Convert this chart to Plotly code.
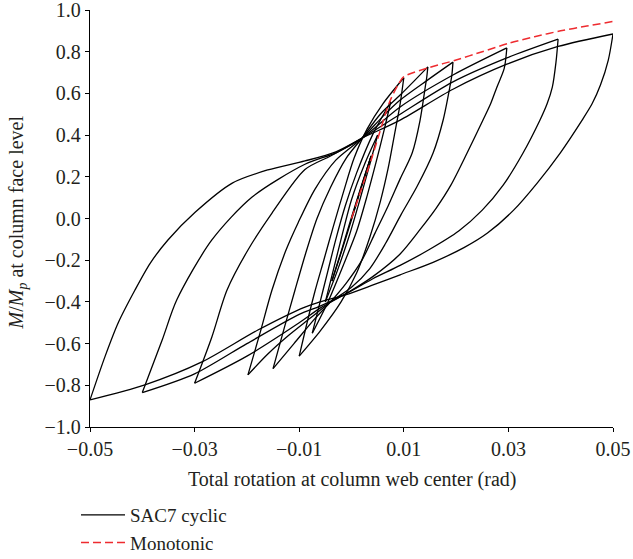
import plotly.graph_objects as go

# Moment-rotation hysteresis of connection SAC7 (cyclic) vs. monotonic push.
# Each branch is a list of (rotation [rad], M/Mp) points.

first_load = [(0.0, 0.0), (0.002, 0.16), (0.00375, 0.30)]

rise_00375 = [(-0.00375, -0.30), (-0.002, -0.16), (-0.0002, -0.01), (0.0018, 0.15), (0.00375, 0.30)]
fall_00375 = [(0.00375, 0.30), (0.002, 0.16), (0.0002, 0.01), (-0.0018, -0.15), (-0.00375, -0.30)]

rise_0005 = [(-0.005, -0.40), (-0.0035, -0.25), (-0.0018, -0.08), (0.0, 0.09), (0.0025, 0.26), (0.005, 0.40)]
fall_0005 = [(0.005, 0.40), (0.0035, 0.26), (0.0016, 0.09), (-0.0004, -0.08), (-0.0027, -0.25), (-0.005, -0.40)]

rise_00075 = [(-0.0075, -0.55), (-0.006, -0.40), (-0.0045, -0.25), (-0.003, -0.10), (-0.0012, 0.06),
              (0.001, 0.22), (0.004, 0.40), (0.0075, 0.56)]
fall_00075 = [(0.0075, 0.56), (0.0062, 0.42), (0.0047, 0.27), (0.003, 0.11), (0.001, -0.06),
              (-0.0015, -0.22), (-0.0045, -0.40), (-0.0075, -0.55)]

rise_001 = [(-0.01, -0.66), (-0.0085, -0.50), (-0.007, -0.35), (-0.0053, -0.20), (-0.0035, -0.04),
            (-0.0015, 0.13), (0.0005, 0.29), (0.003, 0.43), (0.006, 0.55), (0.01, 0.675)]
fall_001 = [(0.01, 0.675), (0.0093, 0.55), (0.0082, 0.40), (0.007, 0.24), (0.0055, 0.08),
            (0.0035, -0.09), (0.001, -0.26), (-0.002, -0.40), (-0.006, -0.54), (-0.01, -0.66)]

rise_0015 = [(-0.015, -0.72), (-0.0128, -0.52), (-0.0108, -0.343), (-0.0088, -0.17), (-0.0066, 0.0),
             (-0.004, 0.15), (-0.001, 0.29), (0.002, 0.385), (0.0055, 0.50), (0.0093, 0.592),
             (0.012, 0.66), (0.0146, 0.727)]
fall_0015 = [(0.0146, 0.727), (0.0144, 0.68), (0.0141, 0.63), (0.0131, 0.47), (0.0116, 0.314),
             (0.0093, 0.19), (0.007, 0.06), (0.0045, -0.07), (0.002, -0.20), (-0.001, -0.31),
             (-0.004, -0.40), (-0.007, -0.48), (-0.011, -0.60), (-0.015, -0.72)]

rise_002 = [(-0.0198, -0.75), (-0.0175, -0.55), (-0.0152, -0.343), (-0.0125, -0.15), (-0.0102, -0.02),
            (-0.007, 0.14), (-0.003, 0.28), (0.002, 0.385), (0.006, 0.49), (0.0093, 0.568),
            (0.0146, 0.665), (0.0194, 0.75)]
fall_002 = [(0.0194, 0.75), (0.0192, 0.69), (0.0188, 0.63), (0.0175, 0.47), (0.0156, 0.314),
            (0.0125, 0.152), (0.0095, 0.02), (0.0065, -0.12), (0.0035, -0.24), (0.0, -0.33),
            (-0.004, -0.40), (-0.008, -0.48), (-0.012, -0.56), (-0.016, -0.65), (-0.0198, -0.75)]

rise_003 = [(-0.03, -0.79), (-0.0267, -0.568), (-0.0238, -0.343), (-0.0198, -0.151), (-0.0152, 0.026),
            (-0.0089, 0.235), (-0.004, 0.30), (0.002, 0.385), (0.0093, 0.535), (0.0194, 0.688),
            (0.0297, 0.818)]
fall_003 = [(0.0297, 0.818), (0.0292, 0.72), (0.0278, 0.63), (0.0266, 0.55), (0.0251, 0.47),
            (0.0221, 0.314), (0.019, 0.16), (0.0162, 0.05), (0.0132, -0.05), (0.0093, -0.17),
            (0.004, -0.28), (-0.001, -0.36), (-0.006, -0.43), (-0.01, -0.50), (-0.02, -0.66),
            (-0.03, -0.79)]

rise_004 = [(-0.04, -0.835), (-0.0362, -0.583), (-0.0334, -0.39), (-0.0267, -0.103), (-0.019, 0.103),
            (-0.0089, 0.26), (-0.003, 0.315), (0.002, 0.385), (0.0093, 0.50), (0.0194, 0.655),
            (0.0297, 0.77), (0.0395, 0.86)]
fall_004 = [(0.0395, 0.86), (0.0391, 0.75), (0.0384, 0.63), (0.0374, 0.55), (0.036, 0.47),
            (0.0328, 0.314), (0.029, 0.16), (0.025, 0.04), (0.0205, -0.06), (0.0148, -0.15),
            (0.0093, -0.225), (0.004, -0.29), (-0.001, -0.36), (-0.006, -0.42), (-0.01, -0.46),
            (-0.02, -0.60), (-0.03, -0.745), (-0.04, -0.835)]

rise_005 = [(-0.05, -0.87), (-0.0471, -0.66), (-0.0446, -0.50), (-0.0414, -0.343), (-0.0385, -0.215),
            (-0.0351, -0.103), (-0.0299, 0.03), (-0.0228, 0.17), (-0.016, 0.233), (-0.0089, 0.276),
            (-0.003, 0.32), (0.002, 0.385), (0.0093, 0.472), (0.0194, 0.62), (0.0297, 0.74),
            (0.0395, 0.825), (0.05, 0.885)]
fall_005 = [(0.05, 0.885), (0.0491, 0.76), (0.0476, 0.64), (0.046, 0.55), (0.0441, 0.472),
            (0.0399, 0.314), (0.0355, 0.17), (0.031, 0.04), (0.026, -0.07), (0.0215, -0.14),
            (0.0156, -0.21), (0.0093, -0.27), (0.004, -0.32), (-0.001, -0.365), (-0.006, -0.40),
            (-0.0089, -0.425), (-0.0179, -0.535), (-0.0286, -0.688), (-0.0395, -0.798), (-0.05, -0.87)]

monotonic = [(0.0, 0.0), (0.004, 0.30), (0.0073, 0.56), (0.009, 0.645), (0.01, 0.68), (0.015, 0.725),
             (0.02, 0.76), (0.025, 0.80), (0.03, 0.84), (0.035, 0.872), (0.04, 0.90), (0.045, 0.923),
             (0.05, 0.945)]

cyclic_branches = [first_load,
                   fall_00375, rise_00375, fall_0005, rise_0005, fall_00075, rise_00075,
                   fall_001, rise_001, fall_0015, rise_0015, fall_002, rise_002,
                   fall_003, rise_003, fall_004, rise_004, fall_005, rise_005]

x_ticks = [-0.05, -0.03, -0.01, 0.01, 0.03, 0.05]
x_tick_text = ["\u22120.05", "\u22120.03", "\u22120.01", "0.01", "0.03", "0.05"]
y_ticks = [-1.0, -0.8, -0.6, -0.4, -0.2, 0.0, 0.2, 0.4, 0.6, 0.8, 1.0]
y_tick_text = ["\u22121.0", "\u22120.8", "\u22120.6", "\u22120.4", "\u22120.2", "0.0",
               "0.2", "0.4", "0.6", "0.8", "1.0"]

FONT = "Liberation Serif"
TXT = "#231f20"

fig = go.Figure()

for i, br in enumerate(cyclic_branches):
    fig.add_trace(go.Scatter(
        x=[p[0] for p in br], y=[p[1] for p in br], mode="lines",
        line=dict(color="black", width=1.3, shape="spline", smoothing=0.8),
        name="SAC7 cyclic", legendgroup="cyclic", showlegend=(i == 0),
        hoverinfo="skip"))

fig.add_trace(go.Scatter(
    x=[p[0] for p in monotonic], y=[p[1] for p in monotonic], mode="lines",
    line=dict(color="#ee2b2f", width=1.5, dash="8px,4px", shape="spline", smoothing=0.8),
    name="Monotonic", legendgroup="mono", hoverinfo="skip"))

axis_common = dict(showgrid=False, zeroline=False, showline=True, linecolor="black", linewidth=1.3,
                   ticks="outside", ticklen=4, tickwidth=1.3, tickcolor="black",
                   ticklabeloverflow="allow", automargin=False,
                   tickfont=dict(family=FONT, size=20, color=TXT))

fig.update_xaxes(range=[-0.05, 0.05], tickvals=x_ticks, ticktext=x_tick_text, **axis_common)
fig.update_yaxes(range=[-1.0, 1.0], tickvals=y_ticks, ticktext=y_tick_text, **axis_common)

fig.add_annotation(text="Total rotation at column web center (rad)", xref="paper", yref="paper",
                   x=0.5, y=-0.127, xanchor="center", yanchor="middle", showarrow=False,
                   font=dict(family=FONT, size=20, color=TXT))
fig.add_annotation(text="<i>M</i>/<i>M</i><sub><i>p</i></sub> at column face level",
                   xref="paper", yref="paper", x=-0.138, y=0.49, xanchor="center", yanchor="middle",
                   textangle=-90, showarrow=False, font=dict(family=FONT, size=20, color=TXT))

fig.update_layout(
    width=633, height=559,
    margin=dict(l=90, r=20, t=10, b=132, autoexpand=False),
    plot_bgcolor="white", paper_bgcolor="white",
    legend=dict(xref="container", yref="container", x=76 / 633, y=1 - 496 / 559,
                xanchor="left", yanchor="top", itemwidth=44,
                traceorder="normal", bgcolor="rgba(0,0,0,0)",
                font=dict(family=FONT, size=19, color=TXT)),
)

fig.write_html("out.html")
